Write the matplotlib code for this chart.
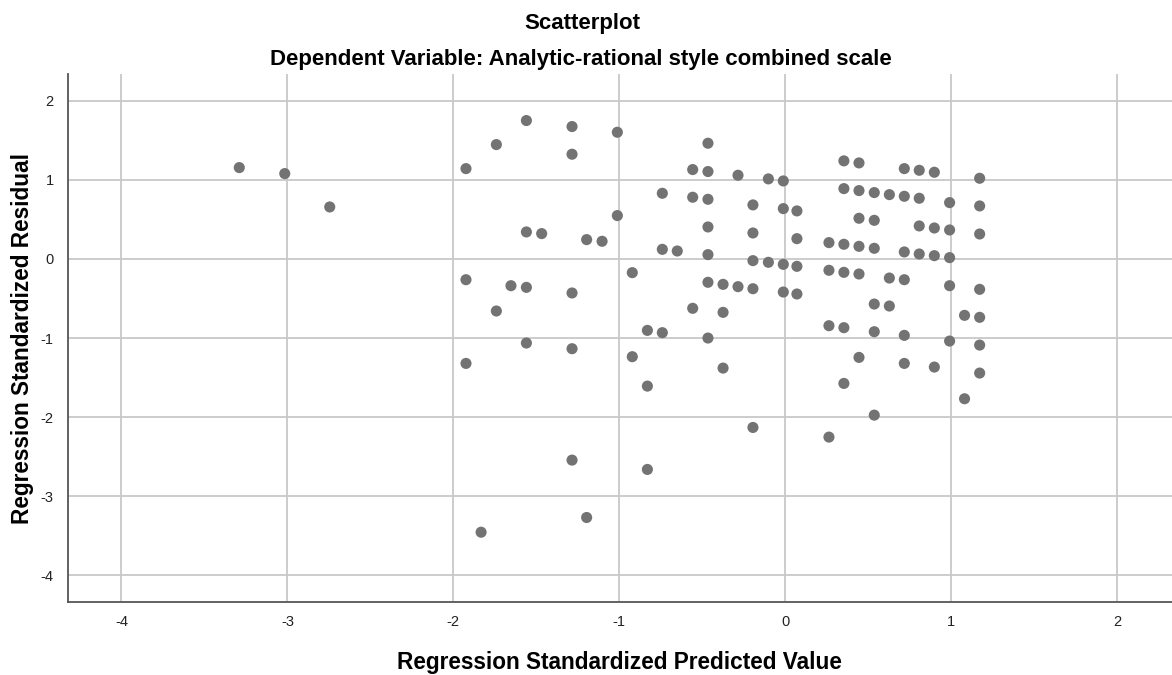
import matplotlib
matplotlib.use("Agg")
import matplotlib.pyplot as plt

plt.rcParams['font.family'] = ['Liberation Sans', 'DejaVu Sans']

# Regression standardized predicted values (x) and residuals (y)
pred = [-3.29, -3.016, -2.745,
        -1.560, -1.285, -1.012, -1.741, -1.285, -1.924,
        -0.466, -0.558, -0.466, -0.285, -0.102, -0.012,
        -0.741, -0.558, -0.466, -0.195, -0.012, 0.070,
        -1.012, -0.466, -0.195, 0.070,
        -1.560, -1.468, -1.197, -1.104,
        -0.741, -0.651, -0.466, -0.195, -0.102, -0.012, 0.070,
        -1.924, -0.922, -1.653, -1.560, -1.285,
        -0.466, -0.375, -0.285, -0.195, -0.012, 0.070,
        -1.741, -0.558, -0.375, -0.831, -0.741, -0.466, -1.560,
        -1.924, -1.285, -0.922, -0.375, -0.831, -0.195,
        -1.285, -0.831, -1.197, -1.833,
        0.353, 0.444, 0.717, 0.807, 0.898, 1.171,
        0.353, 0.444, 0.536, 0.627, 0.717, 0.807, 0.990, 1.171,
        0.444, 0.536, 0.807, 0.898, 0.990, 1.171,
        0.263, 0.353, 0.444, 0.536, 0.717, 0.807, 0.898, 0.990,
        0.263, 0.353, 0.444, 0.627, 0.717, 0.990, 1.171,
        0.536, 0.627, 1.080, 1.171,
        0.263, 0.353, 0.536, 0.717, 0.990, 1.171,
        0.444, 0.717, 0.898, 1.171, 0.353, 1.080, 0.536, 0.263]

resid = [1.156, 1.08, 0.658,
         1.751, 1.675, 1.603, 1.447, 1.325, 1.143,
         1.464, 1.131, 1.106, 1.059, 1.013, 0.987,
         0.831, 0.781, 0.755, 0.684, 0.637, 0.608,
         0.549, 0.405, 0.329, 0.257,
         0.342, 0.321, 0.245, 0.224,
         0.122, 0.101, 0.055, -0.021, -0.042, -0.068, -0.093,
         -0.262, -0.173, -0.338, -0.359, -0.430,
         -0.295, -0.321, -0.350, -0.376, -0.418, -0.443,
         -0.658, -0.624, -0.675, -0.903, -0.932, -1.0, -1.063,
         -1.321, -1.135, -1.236, -1.380, -1.608, -2.131,
         -2.544, -2.662, -3.270, -3.456,
         1.241, 1.215, 1.143, 1.122, 1.097, 1.021,
         0.890, 0.865, 0.840, 0.814, 0.793, 0.768, 0.713, 0.671,
         0.515, 0.489, 0.418, 0.392, 0.367, 0.316,
         0.207, 0.186, 0.160, 0.135, 0.089, 0.063, 0.042, 0.017,
         -0.143, -0.169, -0.190, -0.241, -0.262, -0.338, -0.384,
         -0.570, -0.595, -0.713, -0.738,
         -0.844, -0.869, -0.920, -0.966, -1.038, -1.089,
         -1.245, -1.321, -1.367, -1.443, -1.574, -1.768, -1.975, -2.253]

ticks = [-4, -3, -2, -1, 0, 1, 2]
tick_labels = ['-4', '-3', '-2', '-1', '0', '1', '2']

fig = plt.figure(figsize=(11.72, 6.75), dpi=100)
ax = fig.add_axes([0.0576, 0.108, 0.9424, 0.7824])

ax.scatter(pred, resid, s=64, color='#737373', edgecolors='none', zorder=3)

ax.set_xlim(-4.325, 2.33)
ax.set_ylim(-4.34, 2.34)
ax.set_xticks(ticks)
ax.set_xticklabels(tick_labels)
ax.set_yticks(ticks)
ax.set_yticklabels(tick_labels)
ax.grid(True, color='#c8c8c8', linewidth=1.3, zorder=0)
ax.set_axisbelow(True)
ax.tick_params(length=0, labelsize=10.5, colors='#222222')
ax.tick_params(axis='x', pad=9)
ax.tick_params(axis='y', pad=10)
for side in ['top', 'right']:
    ax.spines[side].set_visible(False)
for side in ['left', 'bottom']:
    ax.spines[side].set_color('#555555')
    ax.spines[side].set_linewidth(1.3)

ax.set_xlabel('Regression Standardized Predicted Value', fontsize=16.3, fontweight='bold', labelpad=16)
ax.set_ylabel('Regression Standardized Residual', fontsize=16.3, fontweight='bold', labelpad=5)

fig.text(0.4965, 1 - 24 / 675, 'Scatterplot', ha='center', va='center', fontsize=16, fontweight='bold')
fig.text(0.4955, 1 - 60 / 675, 'Dependent Variable: Analytic-rational style combined scale',
         ha='center', va='center', fontsize=16, fontweight='bold')

fig.savefig('out.png', dpi=100)
